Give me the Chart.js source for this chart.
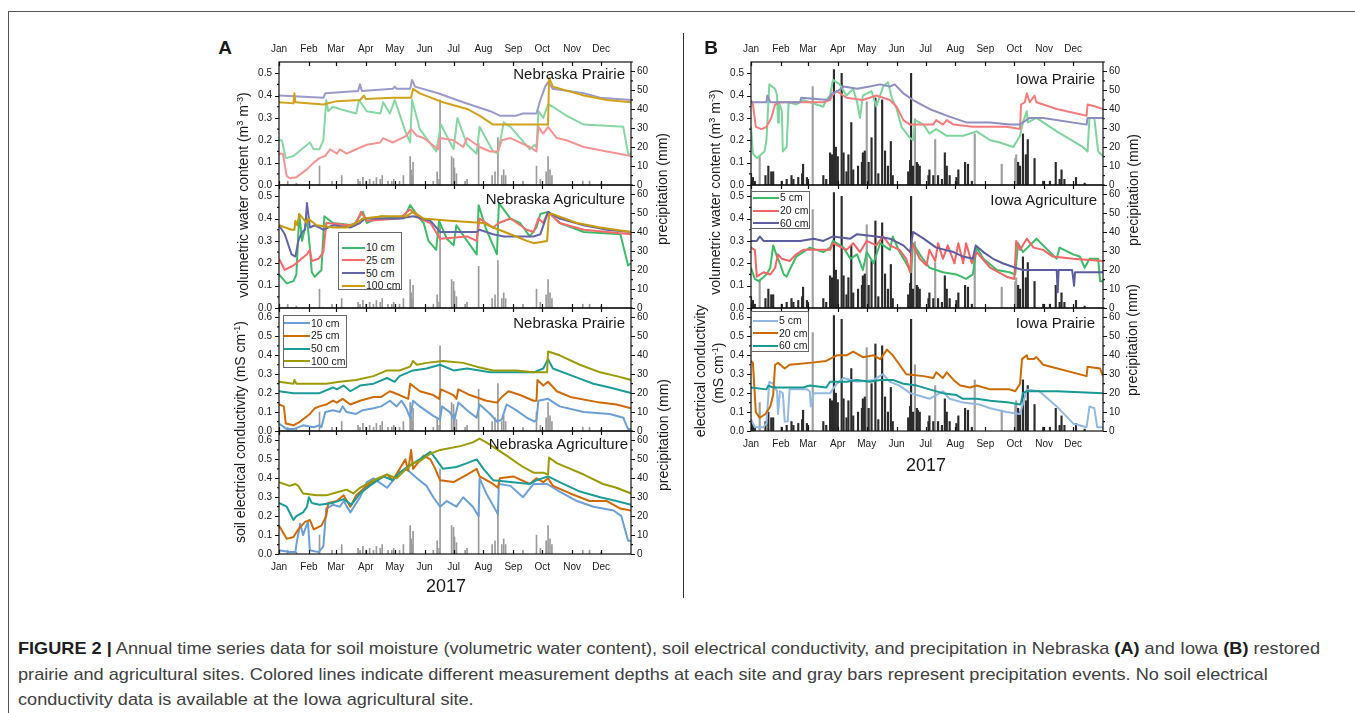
<!DOCTYPE html>
<html>
<head>
<meta charset="utf-8">
<script src="https://cdn.jsdelivr.net/npm/chart.js@4.4.1/dist/chart.umd.min.js"></script>
<style>
  body { margin: 0; width: 1355px; height: 713px; overflow: hidden; background: #fff;
         position: relative; font-family: "Liberation Sans", Arial, Helvetica, sans-serif; color: #1a1a1a; }
  canvas { position: absolute; }
  .abs { position: absolute; white-space: nowrap; line-height: 1; }
  .vt { position: absolute; white-space: nowrap; line-height: 1; transform: translate(-50%, -50%) rotate(-90deg); }
  sup { font-size: 0.65em; vertical-align: 0.5em; line-height: 0; }
  .leg { position: absolute; border: 1px solid #666; background: #fff; box-sizing: border-box; }
  .leg .sw { position: absolute; height: 2px; }
  .leg .tx { position: absolute; font-size: 10.5px; line-height: 1; white-space: nowrap; transform: translateY(-50%); }
  #caption { position: absolute; left: 18px; top: 636px; font-size: 17px; line-height: 25.5px; color: #404040;
             transform-origin: left top; white-space: nowrap; }
  #caption b { color: #1e1e1e; }
</style>
</head>
<body>
<div class="abs" style="left:8px;top:11px;width:1400px;height:800px;border-top:1px solid #555;border-left:1px solid #555;"></div>
<div class="abs" style="left:683px;top:33px;width:1px;height:565px;background:#333;"></div>
<div id="caption">
  <div><span id="capLine1"><b>FIGURE 2 |</b> Annual time series data for soil moisture (volumetric water content), soil electrical conductivity, and precipitation in Nebraska <b>(A)</b> and Iowa <b>(B)</b> restored</span></div>
  <div>prairie and agricultural sites. Colored lines indicate different measurement depths at each site and gray bars represent precipitation events. No soil electrical</div>
  <div>conductivity data is available at the Iowa agricultural site.</div>
</div>
<script>
// ---- axes ----
const monthStarts = [0, 31, 59, 90, 120, 151, 181, 212, 243, 273, 304, 334];
const monthNames = ['Jan', 'Feb', 'Mar', 'Apr', 'May', 'Jun', 'Jul', 'Aug', 'Sep', 'Oct', 'Nov', 'Dec'];
const vwcTicks = [0, 0.1, 0.2, 0.3, 0.4, 0.5];
const ecTicks = [0, 0.1, 0.2, 0.3, 0.4, 0.5, 0.6];
const rainTicks = [0, 10, 20, 30, 40, 50, 60];

// ---- Nebraska precipitation [day, mm] ----
const neRain = [[9,2],[18,1],[42,10],[55,2],[65,5],[82,3],[84,2],[87,4],[90,2],[94,3],[98,2],[101,4],[105,3],[107,5],
  [113,2],[117,2],[119,3],[125,2],[129,5],[136,15],[137,8],[138,5],[139,12],[160,2],[164,7],[166,3],[167,45],
  [179,15],[181,14],[182,9],[184,6],[193,2],[195,3],[207,22],[221,5],[224,7],[227,25],[231,5],[233,8],[235,5],
  [253,2],[267,10],[271,3],[277,7],[279,15],[281,8],[283,5],[315,2],[322,2],[334,1]];

// ---- Iowa precipitation [day, mm] ----
const iaRain = [[0,6],[2,4],[4,2],[15,5],[18,10],[21,7],[23,7],[32,2],[37,3],[42,5],[44,3],[49,4],[53,6],[54,11],
  [58,4],[59,3],[75,5],[78,3],[82,17],[84,16],[86,61],[88,20],[90,15],[94,59],[96,17],[99,7],[101,16],[104,33],
  [106,8],[111,10],[115,12],[116,17],[118,18],[122,12],[125,25],[129,46],[132,6],[136,45],[139,18],[142,10],
  [145,23],[147,5],[163,7],[165,13],[166,59],[168,10],[172,12],[173,11],[175,10],[184,5],[185,8],[189,5],[194,5],
  [198,3],[201,17],[203,10],[206,5],[213,4],[215,8],[222,12],[225,11],[229,2],[277,12],[279,10],[282,27],[285,16],
  [287,24],[294,14],[303,2],[310,2],[316,12],[320,3],[322,8],[325,3],[337,4],[346,1]];
const iaRainGray = [[9,15],[64,52],[120,44],[170,35],[191,24],[232,27],[260,11],[274,14],[275,16]];

// ---- Nebraska prairie, soil moisture [day, m3 m-3] ----
const neP_vwc10 = [[0,0.20],[3,0.20],[7,0.12],[15,0.13],[32,0.19],[36,0.16],[42,0.16],[46,0.20],[49,0.38],[51,0.33],
  [56,0.35],[63,0.34],[80,0.32],[83,0.38],[91,0.33],[105,0.32],[108,0.37],[115,0.32],[120,0.38],[124,0.33],[131,0.24],
  [136,0.19],[138,0.38],[146,0.25],[163,0.15],[168,0.27],[181,0.16],[185,0.30],[195,0.18],[205,0.14],[208,0.26],
  [222,0.15],[227,0.14],[233,0.28],[240,0.26],[260,0.16],[265,0.18],[267,0.17],[269,0.33],[274,0.30],[279,0.36],
  [284,0.35],[298,0.31],[316,0.27],[357,0.26],[362,0.14],[365,0.14]];
const neP_vwc25 = [[0,0.14],[4,0.14],[8,0.04],[11,0.03],[18,0.035],[29,0.07],[36,0.10],[42,0.12],[48,0.13],[53,0.16],
  [60,0.14],[63,0.16],[70,0.14],[80,0.16],[91,0.18],[105,0.19],[108,0.21],[118,0.19],[132,0.22],[137,0.25],[143,0.22],
  [150,0.21],[165,0.16],[167,0.21],[181,0.20],[191,0.17],[195,0.21],[208,0.17],[219,0.15],[227,0.15],[231,0.20],
  [240,0.21],[260,0.17],[267,0.15],[269,0.26],[274,0.23],[279,0.26],[288,0.21],[298,0.20],[316,0.17],[340,0.15],[365,0.13]];
const neP_vwc50 = [[0,0.40],[46,0.39],[48,0.41],[82,0.42],[84,0.45],[86,0.42],[118,0.43],[120,0.44],[122,0.43],
  [136,0.43],[138,0.47],[141,0.44],[165,0.41],[191,0.37],[205,0.35],[219,0.33],[229,0.31],[246,0.31],[253,0.32],
  [267,0.32],[271,0.38],[276,0.44],[279,0.46],[284,0.43],[316,0.41],[333,0.39],[365,0.38]];
const neP_vwc100 = [[0,0.37],[15,0.365],[16,0.41],[17,0.37],[46,0.36],[60,0.375],[84,0.38],[88,0.40],[90,0.385],
  [118,0.39],[137,0.39],[139,0.43],[146,0.41],[170,0.37],[195,0.34],[208,0.31],[222,0.27],[279,0.27],[280,0.48],
  [284,0.44],[316,0.40],[340,0.38],[365,0.37]];

// ---- Nebraska agriculture, soil moisture ----
const neA_vwc10 = [[0,0.15],[8,0.11],[15,0.12],[18,0.15],[21,0.42],[24,0.30],[29,0.40],[32,0.27],[34,0.16],[37,0.14],
  [44,0.17],[47,0.41],[56,0.38],[77,0.37],[87,0.43],[91,0.38],[105,0.41],[129,0.40],[136,0.46],[146,0.40],[150,0.38],
  [155,0.30],[163,0.26],[166,0.39],[174,0.31],[181,0.28],[184,0.37],[195,0.30],[205,0.24],[207,0.46],[215,0.35],
  [226,0.24],[228,0.47],[240,0.40],[250,0.38],[260,0.32],[267,0.36],[271,0.42],[279,0.43],[291,0.38],[316,0.34],
  [354,0.33],[362,0.19],[365,0.20]];
const neA_vwc25 = [[0,0.22],[6,0.17],[15,0.19],[29,0.24],[32,0.26],[34,0.21],[41,0.22],[46,0.25],[49,0.38],[73,0.37],
  [80,0.38],[85,0.43],[91,0.39],[125,0.40],[136,0.44],[146,0.40],[157,0.38],[167,0.31],[195,0.32],[205,0.30],[208,0.40],
  [222,0.36],[228,0.38],[240,0.40],[257,0.35],[264,0.34],[269,0.40],[274,0.38],[279,0.43],[291,0.38],[316,0.35],[365,0.33]];
const neA_vwc50 = [[0,0.37],[6,0.33],[13,0.24],[17,0.23],[20,0.30],[24,0.34],[27,0.35],[29,0.47],[32,0.36],[37,0.37],
  [46,0.35],[56,0.37],[74,0.36],[84,0.38],[89,0.40],[125,0.40],[139,0.41],[157,0.39],[167,0.34],[205,0.34],[208,0.35],
  [222,0.33],[233,0.32],[264,0.32],[271,0.33],[279,0.43],[291,0.40],[316,0.37],[340,0.35],[365,0.34]];
const neA_vwc100 = [[0,0.37],[13,0.35],[16,0.35],[17,0.39],[19,0.37],[21,0.42],[25,0.40],[29,0.38],[30,0.40],[39,0.37],
  [56,0.36],[70,0.36],[80,0.38],[87,0.40],[108,0.41],[132,0.41],[139,0.43],[150,0.40],[177,0.39],[212,0.38],[222,0.36],
  [240,0.33],[257,0.30],[264,0.29],[278,0.30],[280,0.42],[284,0.42],[309,0.38],[333,0.36],[365,0.34]];

// ---- Nebraska prairie, electrical conductivity [day, mS cm-1] ----
const neP_ec10 = [[0,0.04],[8,0.01],[15,0.01],[25,0.03],[36,0.02],[42,0.03],[44,0.02],[48,0.10],[56,0.11],[63,0.10],
  [66,0.13],[70,0.10],[80,0.09],[87,0.11],[98,0.12],[106,0.13],[115,0.16],[122,0.13],[127,0.16],[132,0.12],[136,0.07],
  [139,0.16],[146,0.13],[160,0.08],[167,0.06],[169,0.13],[177,0.10],[182,0.06],[186,0.15],[195,0.11],[205,0.07],
  [208,0.14],[219,0.09],[226,0.05],[231,0.06],[236,0.14],[246,0.11],[257,0.07],[265,0.05],[267,0.06],[269,0.16],
  [279,0.17],[291,0.13],[316,0.10],[343,0.09],[357,0.07],[362,0.01],[365,0.01]];
const neP_ec25 = [[0,0.14],[5,0.13],[7,0.04],[15,0.03],[22,0.05],[32,0.09],[37,0.12],[42,0.13],[49,0.14],[56,0.16],
  [60,0.15],[66,0.17],[74,0.14],[84,0.16],[98,0.18],[106,0.18],[115,0.21],[125,0.19],[134,0.17],[136,0.25],[146,0.21],
  [160,0.19],[166,0.17],[168,0.22],[181,0.19],[184,0.17],[186,0.22],[198,0.19],[215,0.16],[226,0.15],[231,0.18],
  [238,0.21],[250,0.19],[264,0.16],[267,0.16],[268,0.27],[274,0.24],[279,0.26],[288,0.21],[302,0.18],[333,0.15],
  [350,0.14],[365,0.12]];
const neP_ec50 = [[0,0.21],[15,0.20],[42,0.20],[56,0.23],[60,0.22],[67,0.24],[74,0.21],[84,0.24],[98,0.25],[112,0.28],
  [120,0.26],[125,0.29],[139,0.32],[153,0.33],[167,0.35],[181,0.32],[195,0.33],[219,0.31],[236,0.31],[264,0.31],
  [274,0.33],[279,0.38],[284,0.33],[305,0.29],[326,0.25],[343,0.23],[365,0.20]];
const neP_ec100 = [[0,0.26],[15,0.25],[16,0.27],[18,0.25],[49,0.25],[63,0.26],[80,0.27],[98,0.29],[112,0.32],[125,0.32],
  [136,0.34],[139,0.37],[143,0.35],[153,0.36],[170,0.37],[191,0.36],[205,0.34],[222,0.32],[246,0.32],[264,0.31],
  [278,0.31],[279,0.42],[291,0.40],[312,0.35],[333,0.31],[350,0.29],[365,0.27]];

// ---- Nebraska agriculture, electrical conductivity ----
const neA_ec10 = [[0,0.02],[11,0.01],[17,0.01],[18,0.05],[22,0.16],[25,0.10],[27,0.13],[30,0.17],[32,0.02],[41,0.01],
  [46,0.04],[49,0.24],[56,0.26],[63,0.25],[67,0.28],[74,0.22],[84,0.30],[91,0.38],[98,0.40],[112,0.35],[125,0.43],
  [132,0.45],[143,0.40],[153,0.36],[160,0.30],[167,0.25],[174,0.28],[184,0.25],[191,0.30],[201,0.25],[207,0.20],
  [208,0.40],[215,0.32],[226,0.22],[227,0.21],[228,0.37],[240,0.36],[253,0.30],[264,0.37],[278,0.37],[291,0.33],
  [309,0.28],[326,0.25],[347,0.23],[355,0.20],[362,0.07],[365,0.07]];
const neA_ec25 = [[0,0.15],[8,0.08],[15,0.09],[20,0.13],[27,0.17],[32,0.18],[36,0.13],[44,0.15],[49,0.20],[51,0.27],
  [60,0.28],[67,0.31],[74,0.25],[80,0.31],[91,0.36],[105,0.40],[112,0.42],[118,0.39],[131,0.50],[134,0.44],[137,0.55],
  [139,0.45],[150,0.52],[157,0.50],[162,0.45],[167,0.39],[181,0.38],[195,0.42],[205,0.45],[208,0.41],[222,0.37],
  [227,0.35],[229,0.40],[243,0.41],[260,0.37],[267,0.40],[274,0.38],[279,0.40],[284,0.36],[302,0.32],[322,0.28],
  [340,0.28],[354,0.24],[365,0.23]];
const neA_ec50 = [[0,0.27],[8,0.25],[15,0.18],[18,0.20],[25,0.22],[29,0.25],[31,0.30],[34,0.27],[42,0.26],[56,0.27],
  [67,0.29],[75,0.26],[84,0.32],[94,0.36],[108,0.41],[118,0.39],[125,0.43],[136,0.47],[146,0.50],[157,0.54],[163,0.50],
  [170,0.45],[184,0.46],[195,0.48],[205,0.50],[212,0.45],[222,0.39],[240,0.38],[260,0.37],[267,0.39],[279,0.41],
  [291,0.38],[312,0.33],[333,0.30],[350,0.28],[365,0.26]];
const neA_ec100 = [[0,0.38],[11,0.36],[17,0.37],[20,0.36],[25,0.32],[39,0.31],[49,0.31],[63,0.33],[70,0.34],[77,0.32],
  [84,0.35],[98,0.39],[112,0.42],[122,0.40],[132,0.45],[139,0.48],[146,0.49],[157,0.53],[167,0.55],[188,0.57],
  [201,0.59],[208,0.61],[215,0.59],[236,0.52],[253,0.46],[264,0.43],[274,0.43],[279,0.42],[280,0.51],[288,0.48],
  [316,0.42],[336,0.37],[350,0.35],[365,0.32]];

// ---- Iowa prairie, soil moisture ----
const iaP_vwc5 = [[0,0.26],[2,0.14],[6,0.12],[14,0.15],[16,0.20],[19,0.45],[25,0.43],[27,0.40],[28,0.28],[29,0.37],
  [32,0.33],[33,0.15],[37,0.17],[39,0.37],[47,0.36],[54,0.38],[68,0.36],[75,0.35],[78,0.38],[82,0.40],[85,0.47],
  [92,0.45],[99,0.40],[106,0.43],[110,0.37],[113,0.30],[116,0.40],[125,0.42],[130,0.35],[137,0.44],[142,0.46],
  [146,0.39],[151,0.34],[156,0.26],[165,0.21],[168,0.20],[170,0.29],[179,0.27],[185,0.23],[192,0.25],[203,0.22],
  [220,0.22],[234,0.24],[248,0.20],[258,0.19],[272,0.17],[279,0.22],[282,0.28],[286,0.33],[287,0.28],[296,0.30],
  [317,0.24],[344,0.17],[349,0.15],[351,0.30],[356,0.30],[360,0.15],[365,0.13]];
const iaP_vwc20 = [[0,0.38],[2,0.36],[5,0.26],[11,0.25],[16,0.26],[21,0.30],[25,0.36],[30,0.37],[75,0.37],[82,0.38],
  [84,0.40],[89,0.42],[99,0.39],[116,0.38],[130,0.40],[144,0.38],[151,0.35],[158,0.29],[165,0.27],[189,0.27],
  [192,0.29],[199,0.27],[203,0.29],[210,0.27],[230,0.26],[265,0.26],[279,0.25],[280,0.36],[284,0.37],[286,0.41],
  [289,0.37],[294,0.40],[296,0.37],[317,0.34],[348,0.31],[349,0.36],[358,0.35],[365,0.34]];
const iaP_vwc60 = [[0,0.37],[16,0.37],[17,0.40],[20,0.37],[51,0.37],[52,0.39],[80,0.38],[84,0.41],[90,0.42],[96,0.44],
  [110,0.43],[123,0.44],[134,0.45],[144,0.44],[149,0.45],[158,0.41],[168,0.38],[185,0.34],[203,0.31],[223,0.28],
  [248,0.28],[268,0.27],[279,0.27],[282,0.28],[289,0.30],[303,0.30],[348,0.27],[349,0.30],[365,0.30]];

// ---- Iowa agriculture, soil moisture ----
const iaA_vwc5 = [[0,0.18],[4,0.13],[8,0.12],[16,0.15],[20,0.18],[23,0.28],[27,0.23],[30,0.20],[34,0.15],[37,0.14],
  [40,0.17],[47,0.23],[54,0.25],[61,0.27],[75,0.25],[82,0.27],[85,0.30],[96,0.27],[103,0.22],[110,0.24],[116,0.17],
  [120,0.25],[127,0.20],[134,0.29],[144,0.26],[147,0.32],[154,0.25],[161,0.20],[166,0.16],[168,0.29],[175,0.24],
  [185,0.18],[199,0.16],[213,0.15],[223,0.13],[230,0.15],[234,0.27],[241,0.22],[255,0.17],[268,0.16],[274,0.15],
  [277,0.29],[282,0.25],[296,0.31],[310,0.25],[317,0.22],[320,0.27],[334,0.24],[341,0.23],[346,0.18],[351,0.22],
  [360,0.22],[362,0.12],[365,0.12]];
const iaA_vwc20 = [[0,0.27],[4,0.26],[6,0.14],[13,0.16],[20,0.15],[25,0.18],[28,0.24],[32,0.22],[40,0.21],[47,0.24],
  [54,0.26],[82,0.26],[85,0.29],[99,0.26],[106,0.29],[113,0.25],[120,0.30],[130,0.28],[137,0.32],[144,0.28],[154,0.26],
  [161,0.22],[165,0.16],[167,0.29],[175,0.22],[182,0.19],[185,0.26],[191,0.21],[194,0.29],[199,0.22],[204,0.28],
  [211,0.20],[215,0.29],[220,0.20],[223,0.29],[229,0.20],[234,0.25],[248,0.18],[265,0.14],[273,0.13],[275,0.30],
  [279,0.26],[286,0.31],[293,0.27],[303,0.26],[313,0.23],[334,0.22],[365,0.21]];
const iaA_vwc60 = [[0,0.30],[6,0.30],[9,0.32],[13,0.30],[51,0.30],[65,0.31],[75,0.30],[85,0.32],[103,0.31],[110,0.33],
  [130,0.32],[144,0.31],[158,0.28],[165,0.25],[168,0.34],[179,0.31],[192,0.27],[210,0.25],[220,0.23],[230,0.22],
  [233,0.28],[241,0.25],[251,0.22],[261,0.20],[274,0.18],[282,0.17],[317,0.17],[318,0.07],[319,0.17],[333,0.17],
  [335,0.10],[336,0.16],[365,0.16]];

// ---- Iowa prairie, electrical conductivity ----
const iaP_ec5 = [[0,0.06],[4,0.02],[13,0.02],[16,0.04],[19,0.26],[23,0.25],[27,0.21],[28,0.09],[30,0.21],[33,0.20],
  [35,0.05],[38,0.05],[40,0.22],[58,0.22],[61,0.21],[62,0.13],[65,0.20],[82,0.20],[89,0.25],[96,0.28],[110,0.26],
  [127,0.27],[137,0.30],[144,0.26],[154,0.24],[165,0.20],[172,0.19],[185,0.17],[199,0.21],[206,0.17],[220,0.15],
  [237,0.14],[248,0.12],[265,0.10],[279,0.09],[286,0.22],[299,0.21],[317,0.13],[334,0.04],[348,0.02],[351,0.13],
  [356,0.12],[359,0.02],[365,0.02]];
const iaP_ec20 = [[0,0.37],[2,0.36],[5,0.10],[9,0.07],[15,0.09],[20,0.13],[23,0.19],[25,0.35],[28,0.36],[35,0.33],
  [40,0.35],[61,0.36],[78,0.37],[89,0.40],[99,0.40],[106,0.42],[116,0.39],[127,0.40],[134,0.38],[141,0.43],[147,0.40],
  [154,0.35],[161,0.30],[179,0.29],[189,0.28],[192,0.31],[199,0.28],[203,0.31],[210,0.27],[217,0.24],[227,0.23],
  [234,0.24],[248,0.22],[268,0.22],[274,0.21],[279,0.25],[281,0.38],[286,0.40],[287,0.38],[293,0.38],[296,0.39],
  [303,0.35],[348,0.29],[349,0.34],[362,0.33],[365,0.29]];
const iaP_ec60 = [[0,0.23],[16,0.22],[18,0.24],[23,0.23],[54,0.23],[61,0.24],[78,0.23],[82,0.26],[99,0.26],[110,0.27],
  [123,0.26],[134,0.27],[147,0.27],[158,0.25],[172,0.24],[185,0.22],[199,0.20],[213,0.19],[220,0.17],[234,0.17],
  [248,0.16],[268,0.15],[279,0.14],[280,0.15],[282,0.20],[286,0.21],[317,0.21],[365,0.20]];

const xy = arr => arr.map(([x, y]) => ({ x, y }));
const neRainSet = [{ data: neRain, color: '#9a9a9a', width: 1 }];
const iaRainSet = [{ data: iaRain, color: '#2b2b2b', width: 1.5 }, { data: iaRainGray, color: '#a0a0a0', width: 1.5 }];

const FONT = '"Liberation Sans", Arial, sans-serif';

// frame, inward month ticks and outward y ticks
const framePlugin = {
  id: 'frame',
  afterDatasetsDraw(chart) {
    const { ctx, chartArea: a, scales } = chart;
    ctx.save();
    ctx.strokeStyle = '#111';
    ctx.lineWidth = 1.2;
    ctx.strokeRect(a.left, a.top, a.right - a.left, a.bottom - a.top);
    ctx.beginPath();
    monthStarts.forEach(d => {
      const x = Math.round(scales.x.getPixelForValue(d)) + 0.5;
      ctx.moveTo(x, a.top); ctx.lineTo(x, a.top + 4);
      ctx.moveTo(x, a.bottom); ctx.lineTo(x, a.bottom - 4);
    });
    const y = scales.y, y2 = scales.y2;
    y.ticks.forEach(t => {
      const p = Math.round(y.getPixelForValue(t.value)) + 0.5;
      ctx.moveTo(a.left - 4, p); ctx.lineTo(a.left, p);
      const m = y.getPixelForValue(t.value + 0.05);
      if (t.value + 0.05 < y.max) { ctx.moveTo(a.left - 2, m); ctx.lineTo(a.left, m); }
    });
    y2.ticks.forEach(t => {
      const p = Math.round(y2.getPixelForValue(t.value)) + 0.5;
      ctx.moveTo(a.right, p); ctx.lineTo(a.right + 4, p);
      const m = y2.getPixelForValue(t.value + 5);
      ctx.moveTo(a.right, m); ctx.lineTo(a.right + 2, m);
    });
    ctx.stroke();
    ctx.restore();
  }
};

function panel(p) {
  const padL = 45, padR = 40, padT = 20, padB = 20;
  const cv = document.createElement('canvas');
  cv.width = p.w + padL + padR;
  cv.height = p.h + padT + padB;
  cv.style.left = (p.l - padL) + 'px';
  cv.style.top = (p.t - padT) + 'px';
  document.body.appendChild(cv);

  const n = p.lines.length;
  const datasets = p.lines.map(([data, color], i) => ({
    type: 'line', data: xy(data), borderColor: color, borderWidth: 2, pointRadius: 0,
    tension: 0, fill: false, yAxisID: 'y', xAxisID: 'x', order: n - i, borderJoinStyle: 'round'
  }));
  p.rain.forEach(r => datasets.push({
    type: 'bar', data: xy(r.data), backgroundColor: r.color, barThickness: r.width, grouped: false,
    borderWidth: 0, yAxisID: 'y2', xAxisID: 'x', order: 20
  }));

  const tickFont = { family: FONT, size: 10 };
  new Chart(cv, {
    type: 'line',
    data: { datasets },
    options: {
      responsive: false, animation: false, devicePixelRatio: 1,
      layout: { padding: p.xPos === 'top' ? { bottom: padB } : { top: padT } },
      plugins: { legend: { display: false }, tooltip: { enabled: false } },
      scales: {
        x: {
          type: 'linear', position: p.xPos, min: 0, max: 365, offset: false,
          grid: { display: false, drawTicks: false, offset: false }, border: { display: false },
          afterFit: s => { s.height = p.xPos === 'top' ? padT : padB; },
          afterBuildTicks: s => { s.ticks = monthStarts.map(v => ({ value: v })); },
          ticks: { display: p.xLabels, autoSkip: false, maxRotation: 0, padding: 7, color: '#1a1a1a', font: tickFont,
                   callback: (v, i) => monthNames[i] }
        },
        y: {
          position: 'left', min: 0, max: p.ymax,
          grid: { display: false, drawTicks: false }, border: { display: false },
          afterFit: s => { s.width = padL; },
          afterBuildTicks: s => { s.ticks = p.yTicks.map(v => ({ value: v })); },
          ticks: { padding: 7, color: '#1a1a1a', font: tickFont, callback: v => v.toFixed(1) }
        },
        y2: {
          position: 'right', min: 0, max: 65,
          grid: { display: false, drawTicks: false }, border: { display: false },
          afterFit: s => { s.width = padR; },
          afterBuildTicks: s => { s.ticks = rainTicks.map(v => ({ value: v })); },
          ticks: { padding: 6, color: '#1a1a1a', font: tickFont, callback: v => String(v) }
        }
      }
    },
    plugins: [framePlugin]
  });
}

// colours
const cA1 = ['#86d7a3', '#f69494', '#9a9acb', '#d1a21c'];
const cA2 = ['#3dbb68', '#f86a6a', '#6464a8', '#c99a0c'];
const cAec = ['#6c9fd6', '#cf6a06', '#1c9c98', '#9b9b07'];
const cB1 = ['#7dd49c', '#f57c7c', '#8e8ec2'];
const cB2 = ['#3dbb68', '#f56464', '#5c5c9e'];
const cBec = ['#93b9e2', '#cc6a00', '#179a94'];

const panels = [
  { l: 279, t: 62, w: 352, h: 123, ymax: 0.55, yTicks: vwcTicks, xPos: 'top', xLabels: true, rain: neRainSet,
    lines: [[neP_vwc10, cA1[0]], [neP_vwc25, cA1[1]], [neP_vwc50, cA1[2]], [neP_vwc100, cA1[3]]] },
  { l: 279, t: 185, w: 352, h: 123, ymax: 0.55, yTicks: vwcTicks, xPos: 'bottom', xLabels: false, rain: neRainSet,
    lines: [[neA_vwc10, cA2[0]], [neA_vwc25, cA2[1]], [neA_vwc50, cA2[2]], [neA_vwc100, cA2[3]]] },
  { l: 279, t: 308, w: 352, h: 123, ymax: 0.65, yTicks: ecTicks, xPos: 'bottom', xLabels: false, rain: neRainSet,
    lines: [[neP_ec10, cAec[0]], [neP_ec25, cAec[1]], [neP_ec50, cAec[2]], [neP_ec100, cAec[3]]] },
  { l: 279, t: 431, w: 352, h: 123, ymax: 0.65, yTicks: ecTicks, xPos: 'bottom', xLabels: true, rain: neRainSet,
    lines: [[neA_ec10, cAec[0]], [neA_ec25, cAec[1]], [neA_ec50, cAec[2]], [neA_ec100, cAec[3]]] },
  { l: 751, t: 62, w: 352, h: 123, ymax: 0.55, yTicks: vwcTicks, xPos: 'top', xLabels: true, rain: iaRainSet,
    lines: [[iaP_vwc5, cB1[0]], [iaP_vwc20, cB1[1]], [iaP_vwc60, cB1[2]]] },
  { l: 751, t: 185, w: 352, h: 123, ymax: 0.55, yTicks: vwcTicks, xPos: 'bottom', xLabels: false, rain: iaRainSet,
    lines: [[iaA_vwc5, cB2[0]], [iaA_vwc20, cB2[1]], [iaA_vwc60, cB2[2]]] },
  { l: 751, t: 308, w: 352, h: 123, ymax: 0.65, yTicks: ecTicks, xPos: 'bottom', xLabels: true, rain: iaRainSet,
    lines: [[iaP_ec5, cBec[0]], [iaP_ec20, cBec[1]], [iaP_ec60, cBec[2]]] }
];
panels.forEach(panel);

// ---- text overlays ----
function text(html, x, y, size, opts = {}) {
  const d = document.createElement('div');
  d.className = 'abs';
  d.innerHTML = html;
  d.style.fontSize = size + 'px';
  d.style.top = (y - size / 2) + 'px';
  if (opts.right != null) d.style.right = (1355 - opts.right) + 'px';
  else { d.style.left = x + 'px'; d.style.transform = 'translateX(-50%)'; }
  if (opts.bold) d.style.fontWeight = 'bold';
  document.body.appendChild(d);
}
function vtext(html, cx, cy, size) {
  const d = document.createElement('div');
  d.className = 'vt';
  d.innerHTML = html;
  d.style.left = cx + 'px';
  d.style.top = cy + 'px';
  d.style.fontSize = size + 'px';
  document.body.appendChild(d);
}
function legend(l, t, w, h, firstY, gap, swL, swW, items) {
  const box = document.createElement('div');
  box.className = 'leg';
  Object.assign(box.style, { left: l + 'px', top: t + 'px', width: w + 'px', height: h + 'px' });
  items.forEach(([label, color], i) => {
    const cy = firstY + gap * i - t;
    const sw = document.createElement('div');
    sw.className = 'sw';
    Object.assign(sw.style, { left: (swL - l - 1) + 'px', top: (cy - 1.5) + 'px', width: swW + 'px', background: color });
    const tx = document.createElement('div');
    tx.className = 'tx';
    tx.textContent = label;
    Object.assign(tx.style, { left: (swL - l + swW) + 'px', top: (cy - 1) + 'px' });
    box.appendChild(sw); box.appendChild(tx);
  });
  document.body.appendChild(box);
}

text('A', 225, 47, 19, { bold: true });
text('B', 711, 47, 19, { bold: true });

text('Nebraska Prairie', 0, 73, 15, { right: 625 });
text('Nebraska Agriculture', 0, 198, 15, { right: 625 });
text('Nebraska Prairie', 0, 322, 15, { right: 625 });
text('Nebraska Agriculture', 0, 443, 15, { right: 628 });
text('Iowa Prairie', 0, 78, 15, { right: 1095 });
text('Iowa Agriculture', 0, 199, 15, { right: 1097 });
text('Iowa Prairie', 0, 322, 15, { right: 1095 });

text('2017', 446, 586, 18);
text('2017', 926, 465, 18);

vtext('volumetric water content (m<sup>3</sup> m<sup>-3</sup>)', 243, 195, 14);
vtext('soil electrical conductivity (mS cm<sup>-1</sup>)', 240, 432, 14);
vtext('precipitation (mm)', 662, 189, 14);
vtext('precipitation (mm)', 663, 435, 14);
vtext('volumetric water content (m<sup>3</sup> m<sup>-3</sup>)', 715, 192, 14);
vtext('electrical conductivity', 700, 371, 14);
vtext('(mS cm<sup>-1</sup>)', 718, 373, 14);
vtext('precipitation (mm)', 1133, 190, 14);
vtext('precipitation (mm)', 1132, 340, 14);

legend(338, 232, 64, 58, 247, 12.8, 342, 23,
  [['10 cm', cA2[0]], ['25 cm', cA2[1]], ['50 cm', cA2[2]], ['100 cm', cA2[3]]]);
legend(283, 315, 64, 53, 322.7, 12.7, 284, 26,
  [['10 cm', cAec[0]], ['25 cm', cAec[1]], ['50 cm', cAec[2]], ['100 cm', cAec[3]]]);
legend(751, 191, 59, 38, 197.3, 12.7, 753, 26,
  [['5 cm', cB2[0]], ['20 cm', cB2[1]], ['60 cm', cB2[2]]]);
legend(751, 311, 58, 41, 320, 12.5, 753, 25,
  [['5 cm', cBec[0]], ['20 cm', cBec[1]], ['60 cm', cBec[2]]]);

// stretch the caption so its first line spans the same width as in the figure
const capW = document.getElementById('capLine1').getBoundingClientRect().width;
document.getElementById('caption').style.transform = 'scaleX(' + (1302 / capW).toFixed(4) + ')';
</script>
</body>
</html>
